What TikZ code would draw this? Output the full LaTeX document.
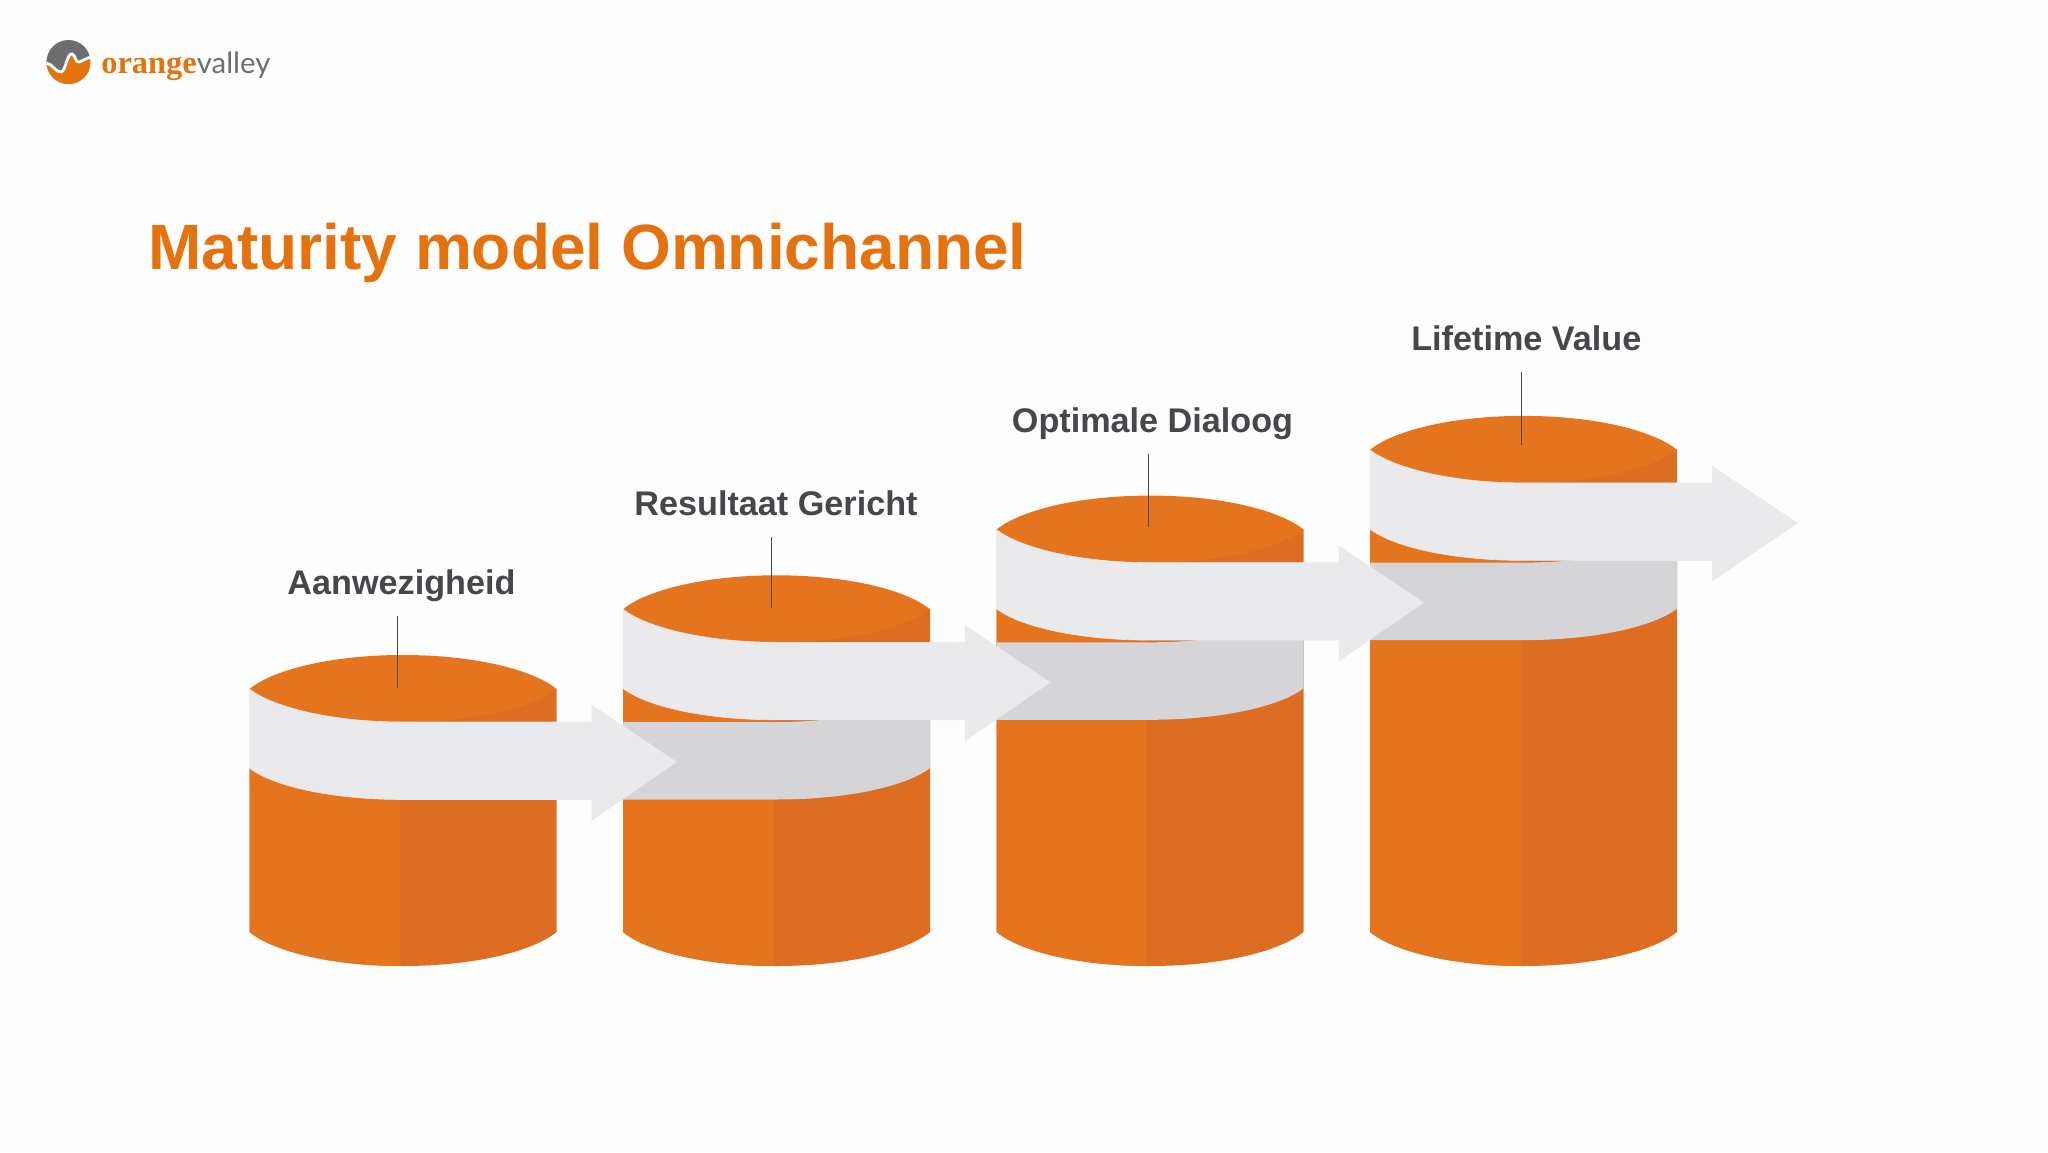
\documentclass[tikz,border=0pt]{standalone}
\usepackage{fontspec}
\setmainfont{Liberation Sans}
\newfontfamily\logoserif{Liberation Serif}
\newfontfamily\logosans{Lato}
\usepackage{xcolor}
\usetikzlibrary{arrows.meta,calc}
\definecolor{pagebg}{HTML}{FDFDFD}
\definecolor{ovorange}{HTML}{E5741E}
\definecolor{ovdark}{HTML}{DC6D22}
\definecolor{titleorange}{HTML}{E4730F}
\definecolor{bandlight}{HTML}{EAE9EB}
\definecolor{banddark}{HTML}{D5D4D6}
\definecolor{labelgrey}{HTML}{47464A}
\definecolor{logogrey}{HTML}{6D6E70}

\begin{document}
\begin{tikzpicture}[x=0.5pt,y=0.5pt]
            \tikzset{heading/.style = {font=\bfseries\fontsize{32}{36}\selectfont, text=titleorange, inner sep=0pt}}
            \tikzset{steplabel/.style = {font=\bfseries\fontsize{17.1}{20}\selectfont, text=labelgrey, inner sep=0pt}}
            \tikzset{leader/.style = {draw=labelgrey, line width=0.5pt}}
            \tikzset{bandfront/.style = {fill=bandlight, draw=bandlight, line width=0.3pt}}
            \tikzset{bandback/.style = {fill=banddark}}

            % page
            \fill[pagebg] (0,0) rectangle (2048,1152);
            \useasboundingbox (0,0) rectangle (2048,1152);

            % logo
            \begin{scope}
              \clip (68.5,1090) circle (22);
              \fill[logogrey] (46,1066) rectangle (91,1114);
              \fill[titleorange] (46,1066) -- (46,1088)
                .. controls (52,1088) and (56,1078) .. (61,1079)
                .. controls (66,1080) and (67,1098) .. (72,1097)
                .. controls (76,1096) and (75,1088) .. (79,1089)
                .. controls (83,1090) and (86,1093) .. (91,1094) -- (91,1066) -- cycle;
              \draw[white, line width=1.4pt] (46,1089)
                .. controls (52,1089) and (56,1079) .. (61,1080)
                .. controls (66,1081) and (67,1099) .. (72,1098)
                .. controls (76,1097) and (75,1089) .. (79,1090)
                .. controls (83,1091) and (86,1094) .. (91,1095);
            \end{scope}
            \node[anchor=base west, inner sep=0pt] (logotext) at (101,1078)
              {\textcolor{titleorange}{\fontsize{16.2}{20}\selectfont\logoserif\bfseries orange}\textcolor{logogrey}{\fontsize{14.7}{20}\selectfont\logosans valley}};

            % title
            \node[heading, anchor=west] (title) at (148,899) {Maturity model Omnichannel};

            % cylinders
            \foreach \x in {1,2,3,4}
            {
              \pgfmathsetmacro{\cx}{403+373.5*(\x-1)}
              \pgfmathsetmacro{\cy}{463+79.7*(\x-1)}
              \begin{scope}[shift={(\cx,0)}]
                \fill[ovdark] (-153.5,220)
                  .. controls (-132,202) and (-75,186) .. (0,186)
                  .. controls (75,186) and (132,202) .. (153.5,220)
                  -- (153.5,\cy) -- (-153.5,\cy) -- cycle;
                \fill[ovorange] (-153.5,220)
                  .. controls (-132,202) and (-75,186) .. (-2.7,186)
                  -- (-2.7,\cy) -- (-153.5,\cy) -- cycle;
                \fill[ovorange] (-153.5,\cy)
                  .. controls (-132,\cy+18) and (-75,\cy+34) .. (0,\cy+34)
                  .. controls (75,\cy+34) and (132,\cy+18) .. (153.5,\cy)
                  .. controls (132,\cy-17) and (75,\cy-33) .. (0,\cy-33)
                  .. controls (-75,\cy-33) and (-132,\cy-17) .. (-153.5,\cy) -- cycle;
              \end{scope}
            }

            % back of the bands
            \foreach \x in {2,3,4}
            {
              \pgfmathsetmacro{\cx}{403+373.5*(\x-1)}
              \pgfmathsetmacro{\cy}{463+79.7*(\x-2)}
              \begin{scope}[shift={(\cx,\cy)}]
                \fill[bandback] (-153.5,-33) -- (0,-33)
                  .. controls (75,-33) and (132,-17) .. (153.5,0)
                  -- (153.5,-79)
                  .. controls (132,-96) and (75,-110.5) .. (0,-110.5)
                  -- (-153.5,-110.5) -- cycle;
              \end{scope}
            }

            % front of the bands
            \foreach \x in {1,2,3,4}
            {
              \pgfmathsetmacro{\cx}{403+373.5*(\x-1)}
              \pgfmathsetmacro{\cy}{463+79.7*(\x-1)}
              \begin{scope}[shift={(\cx,\cy)}]
                \fill[bandfront] (-153.5,0)
                  .. controls (-132,-17) and (-75,-33) .. (0,-33)
                  -- (189,-33) -- (189,-16.5) -- (273.5,-73) -- (189,-131)
                  -- (189,-110.5) -- (0,-110.5)
                  .. controls (-75,-110.5) and (-132,-96) .. (-153.5,-79) -- cycle;
              \end{scope}
            }

            % labels
            \foreach \x/\txt/\dx/\dy/\lx/\lt/\le in {1/Aanwezigheid/-1.5/-1.3/-5.5/0/0, 2/Resultaat Gericht/-0.5/-1.3/-5.5/0/0, 3/Optimale Dialoog/2.5/1.3/-2/2.6/1.3, 4/Lifetime Value/2.8/4/-2/5/4}
            {
              \pgfmathsetmacro{\cx}{403+373.5*(\x-1)}
              \pgfmathsetmacro{\cy}{463+79.7*(\x-1)}
              \node[steplabel, text height=2.6ex, text depth=0.6ex] (label\x) at (\cx+\dx,\cy+106+\dy) {\txt};
              \coordinate (leadtop\x) at (\cx+\lx,\cy+72.5+\lt);
              \coordinate (leadend\x) at (\cx+\lx,\cy+1+\le);
              \draw[leader] (leadtop\x) to (leadend\x);
            }

          \end{tikzpicture}
\end{document}
